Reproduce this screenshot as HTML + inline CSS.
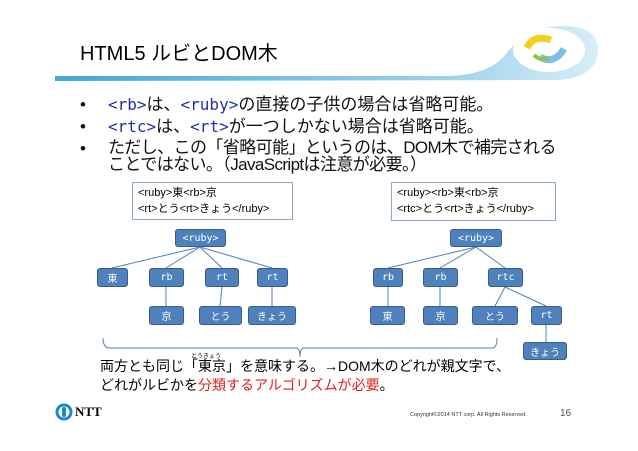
<!DOCTYPE html>
<html><head><meta charset="utf-8"><style>
body{margin:0;width:638px;height:451px;background:#fff;position:relative;overflow:hidden;font-family:"Liberation Sans","Noto Sans CJK JP",sans-serif;}
.a{position:absolute;white-space:nowrap;}
.n{position:absolute;background:#4f81bd;border:1px solid #385d8a;border-radius:3px;color:#fff;font-size:10px;display:flex;align-items:center;justify-content:center;box-sizing:border-box;font-family:"DejaVu Sans Mono","Noto Sans CJK JP",monospace;}
.b{font-size:17px;color:#111;line-height:20px;}
.c{color:#1f2fa8;font-family:"DejaVu Sans Mono","Noto Sans CJK JP",monospace;font-size:16px;line-height:20px;}
.tb{position:absolute;border:1px solid #8ea9c8;font-size:11px;line-height:16px;padding:2px 5px;box-sizing:border-box;}
</style></head><body>
<svg class="a" style="left:0;top:0" width="638" height="451">
<defs><linearGradient id="g" x1="0" x2="1"><stop offset="0" stop-color="#2c9fd0"/><stop offset="0.7" stop-color="#8fcbe8"/><stop offset="1" stop-color="#d4ecf7"/></linearGradient></defs>
<path d="M55 76 L450 76 Q490 74 505 55 Q525 28 560 26 Q598 25 598 50 Q598 76 560 80 L55 81 Z" fill="url(#g)" opacity="0.9"/>
<ellipse cx="549" cy="50" rx="36" ry="22" fill="#fff"/>
<path d="M527 48 q6 -14 24 -8" stroke="#f0d020" stroke-width="7" fill="none"/>
<path d="M540 57 q14 8 24 -8" stroke="#7cc0e8" stroke-width="7" fill="none"/>
<path d="M534 55 q6 6 14 3" stroke="#8cc63f" stroke-width="4" fill="none"/>
<g stroke="#4f81bd" stroke-width="1">
<line x1="200" y1="247" x2="112" y2="268"/><line x1="200" y1="247" x2="166" y2="268"/><line x1="200" y1="247" x2="222" y2="268"/><line x1="200" y1="247" x2="272" y2="268"/>
<line x1="166" y1="287" x2="166" y2="306"/><line x1="222" y1="287" x2="220" y2="306"/><line x1="272" y1="287" x2="272" y2="306"/>
<line x1="476" y1="247" x2="388" y2="268"/><line x1="476" y1="247" x2="440" y2="268"/><line x1="476" y1="247" x2="505" y2="268"/>
<line x1="388" y1="287" x2="388" y2="306"/><line x1="440" y1="287" x2="440" y2="306"/><line x1="505" y1="287" x2="495" y2="306"/><line x1="505" y1="287" x2="546" y2="306"/>
<line x1="546" y1="325" x2="546" y2="342"/>
<path d="M103 338 Q103 348 110 348 L296 348 Q300 348 300 357 Q300 348 304 348 L492 348 Q497 348 497 338" fill="none"/>
</g>
<circle cx="64" cy="412" r="7" fill="none" stroke="#1a8ad0" stroke-width="3"/>
<rect x="62" y="407" width="4" height="10" rx="2" fill="#1a8ad0"/>
</svg>
<div class="a" style="left:80px;top:37px;font-size:20px;">HTML5 ルビとDOM木</div>
<div class="a b" style="left:80px;top:95px;">•</div><div class="a b" style="left:108px;top:95px;"><span class="c">&lt;rb&gt;</span>は、<span class="c">&lt;ruby&gt;</span>の直接の子供の場合は省略可能。</div>
<div class="a b" style="left:80px;top:117px;">•</div><div class="a b" style="left:108px;top:117px;"><span class="c">&lt;rtc&gt;</span>は、<span class="c">&lt;rt&gt;</span>が一つしかない場合は省略可能。</div>
<div class="a b" style="left:80px;top:139px;">•</div><div class="a b" style="left:108px;top:139px;line-height:17px;letter-spacing:-0.6px;">ただし、この「省略可能」というのは、DOM木で補完される<br>ことではない。（JavaScriptは注意が必要。）</div>
<div class="tb" style="left:132px;top:182px;width:161px;height:38px;">&lt;ruby&gt;東&lt;rb&gt;京<br>&lt;rt&gt;とう&lt;rt&gt;きょう&lt;/ruby&gt;</div>
<div class="tb" style="left:391px;top:182px;width:165px;height:39px;">&lt;ruby&gt;&lt;rb&gt;東&lt;rb&gt;京<br>&lt;rtc&gt;とう&lt;rt&gt;きょう&lt;/ruby&gt;</div>
<div class="n" style="left:175px;top:229px;width:51px;height:18px;">&lt;ruby&gt;</div>
<div class="n" style="left:97px;top:268px;width:31px;height:19px;">東</div>
<div class="n" style="left:149px;top:268px;width:35px;height:19px;">rb</div>
<div class="n" style="left:205px;top:268px;width:34px;height:19px;">rt</div>
<div class="n" style="left:257px;top:268px;width:31px;height:19px;">rt</div>
<div class="n" style="left:149px;top:306px;width:35px;height:19px;">京</div>
<div class="n" style="left:199px;top:306px;width:43px;height:19px;">とう</div>
<div class="n" style="left:248px;top:306px;width:48px;height:19px;">きょう</div>
<div class="n" style="left:450px;top:229px;width:52px;height:18px;">&lt;ruby&gt;</div>
<div class="n" style="left:373px;top:268px;width:30px;height:19px;">rb</div>
<div class="n" style="left:423px;top:268px;width:35px;height:19px;">rb</div>
<div class="n" style="left:488px;top:268px;width:35px;height:19px;">rtc</div>
<div class="n" style="left:370px;top:306px;width:35px;height:19px;">東</div>
<div class="n" style="left:423px;top:306px;width:35px;height:19px;">京</div>
<div class="n" style="left:472px;top:306px;width:46px;height:19px;">とう</div>
<div class="n" style="left:531px;top:306px;width:31px;height:19px;">rt</div>
<div class="n" style="left:523px;top:342px;width:44px;height:18px;">きょう</div>
<div class="a" style="left:191px;top:351px;font-size:6px;">とうきょう</div>
<div class="a" style="left:100px;top:357px;font-size:14px;line-height:19px;">両方とも同じ「東京」を意味する。→DOM木のどれが親文字で、<br>どれがルビかを<span style="color:#e02020">分類するアルゴリズムが必要</span>。</div>
<div class="a" style="left:75px;top:404px;font-size:13px;font-weight:bold;font-family:'Liberation Serif',serif;">NTT</div>
<div class="a" style="left:410px;top:412px;font-size:5.5px;color:#333;">Copyright©2014 NTT corp. All Rights Reserved.</div>
<div class="a" style="left:560px;top:408px;font-size:10px;color:#555;">16</div>
</body></html>
